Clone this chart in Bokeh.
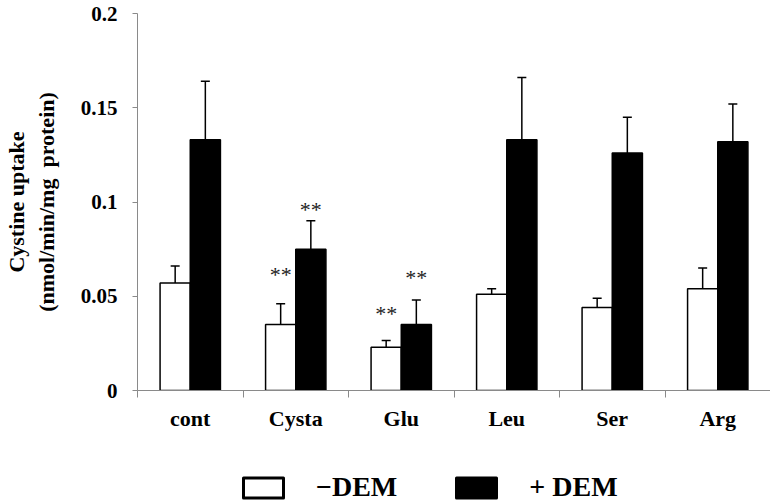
import numpy as np
from bokeh.plotting import figure
from bokeh.layouts import column
from bokeh.models import (ColumnDataSource, Range1d, FixedTicker, CustomJSTickFormatter,
                          Whisker, TeeHead, Legend, LegendItem)
from bokeh.core.properties import value
from bokeh.embed import file_html
from bokeh.resources import INLINE

# ---- data ----
categories = ["cont", "Cysta", "Glu", "Leu", "Ser", "Arg"]
minus_dem = [0.057, 0.035, 0.023, 0.051, 0.044, 0.054]
minus_err = [0.009, 0.011, 0.0035, 0.003, 0.005, 0.011]
plus_dem = [0.133, 0.075, 0.035, 0.133, 0.126, 0.132]
plus_err = [0.031, 0.015, 0.013, 0.033, 0.019, 0.020]
# significance marks: (category index, series, label y)
sig_cat = [1, 1, 2, 2]
sig_series = ["minus", "plus", "minus", "plus"]
sig_y = [0.0626, 0.0971, 0.0419, 0.0610]
y_ticks = [0, 0.05, 0.1, 0.15, 0.2]
legend_labels = ["\u2212DEM", "+ DEM"]

FONT = "Liberation Serif"
GREY = "#8a8a8a"

n = len(categories)
centers = np.arange(n) + 0.5
half = 0.143
bar_w = 0.286

src_m = ColumnDataSource(dict(x=centers - half, top=minus_dem,
                              upper=np.array(minus_dem) + np.array(minus_err)))
src_p = ColumnDataSource(dict(x=centers + half, top=plus_dem,
                              upper=np.array(plus_dem) + np.array(plus_err)))

p = figure(width=770, height=464, output_backend="svg", toolbar_location=None,
           x_range=Range1d(0, 6.0), y_range=Range1d(0, 0.2),
           min_border_left=130, min_border_right=0, min_border_top=13, min_border_bottom=74)
p.outline_line_color = None
p.xgrid.grid_line_color = None
p.ygrid.grid_line_color = None

rw = p.vbar(x="x", top="top", width=bar_w, bottom=0, source=src_m,
            fill_color="white", line_color="black", line_width=1.5)
rb = p.vbar(x="x", top="top", width=bar_w, bottom=0, source=src_p,
            fill_color="black", line_color="black", line_width=1.5)

for src in (src_m, src_p):
    w = Whisker(base="x", lower="top", upper="upper", source=src, dimension="height",
                line_color="black", line_width=1.5,
                upper_head=TeeHead(size=9, line_width=1.5, line_color="black"),
                lower_head=None, level="overlay")
    p.add_layout(w)

# significance asterisks
sx = [centers[c] + (-half if s == "minus" else half) for c, s in zip(sig_cat, sig_series)]
p.text(x=sx, y=sig_y, text=["**"] * len(sx), text_align="center",
       text_baseline="alphabetic", y_offset=2,
       text_font=value(FONT), text_font_size="22px", text_color="#222222")

# x axis
xa = p.xaxis[0]
xa.ticker = FixedTicker(ticks=list(centers), minor_ticks=list(range(n + 1)))
xa.formatter = CustomJSTickFormatter(args=dict(labels=categories),
                                     code="return labels[Math.floor(tick)];")
xa.major_tick_line_color = None
xa.major_tick_out = 6
xa.minor_tick_line_color = GREY
xa.minor_tick_out = 7
xa.minor_tick_in = 0
xa.axis_line_color = GREY
xa.major_label_text_font = FONT
xa.major_label_text_font_style = "bold"
xa.major_label_text_font_size = "22px"
xa.major_label_text_color = "black"
xa.major_label_standoff = 8

# y axis
ya = p.yaxis[0]
ya.ticker = FixedTicker(ticks=y_ticks)
ya.formatter = CustomJSTickFormatter(code="return String(tick);")
ya.minor_tick_line_color = None
ya.major_tick_line_color = GREY
ya.major_tick_out = 5
ya.major_tick_in = 0
ya.axis_line_color = GREY
ya.major_label_text_font = FONT
ya.major_label_text_font_style = "bold"
ya.major_label_text_font_size = "21px"
ya.major_label_text_color = "black"
ya.major_label_standoff = 15
ya.axis_label = "Cystine uptake\n(nmol/min/mg\u00a0 protein)"
ya.axis_label_text_font = FONT
ya.axis_label_text_font_style = "bold"
ya.axis_label_text_font_size = "22px"
ya.axis_label_text_color = "black"
ya.axis_label_standoff = 19

# ---- legend strip ----
lf = figure(width=770, height=40, output_backend="svg", toolbar_location=None,
            x_range=Range1d(0, 1), y_range=Range1d(0, 1),
            x_axis_location=None, y_axis_location=None,
            min_border=0, min_border_left=0, min_border_right=0,
            min_border_top=0, min_border_bottom=0)
lf.outline_line_color = None
lf.xgrid.grid_line_color = None
lf.ygrid.grid_line_color = None
lw = lf.vbar(x=[float("nan")], top=[float("nan")], width=0.1, fill_color="white",
             line_color="black", line_width=3, line_join="round")
lb = lf.vbar(x=[float("nan")], top=[float("nan")], width=0.1, fill_color="black",
             line_color="black", line_width=3, line_join="round")
legend = Legend(items=[LegendItem(label=legend_labels[0], renderers=[lw]),
                       LegendItem(label=legend_labels[1], renderers=[lb])],
                orientation="horizontal", location=(101, 1),
                glyph_width=50, glyph_height=25, label_standoff=28, spacing=54,
                label_height=25, padding=0, margin=0, border_line_color=None,
                background_fill_alpha=0,
                label_text_font=FONT, label_text_font_style="bold",
                label_text_font_size="28px", label_text_color="black")
lf.add_layout(legend)

open("out.html", "w").write(file_html(column(p, lf, spacing=0), INLINE))
